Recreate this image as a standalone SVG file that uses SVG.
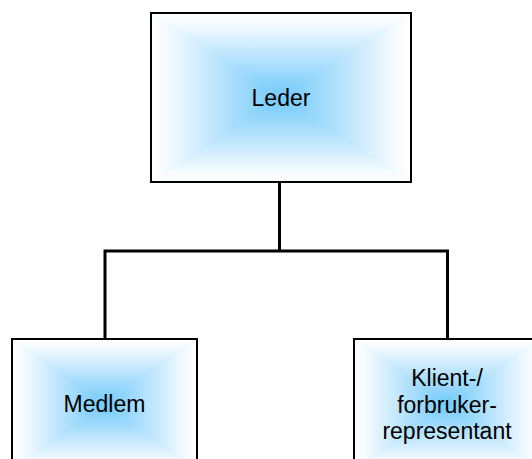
<svg xmlns="http://www.w3.org/2000/svg" width="532" height="459" viewBox="0 0 532 459">
  <defs>
    <!-- rectangular "from centre" fill built from four edge-to-centre wedges -->
    <linearGradient id="gT" x1="0" y1="0" x2="0" y2="1">
      <stop offset="0" stop-color="#ffffff"/>
      <stop offset="0.12" stop-color="#f6fbff"/>
      <stop offset="1" stop-color="#70c9fa"/>
    </linearGradient>
    <linearGradient id="gB" x1="0" y1="1" x2="0" y2="0">
      <stop offset="0" stop-color="#ffffff"/>
      <stop offset="0.12" stop-color="#f6fbff"/>
      <stop offset="1" stop-color="#70c9fa"/>
    </linearGradient>
    <linearGradient id="gL" x1="0" y1="0" x2="1" y2="0">
      <stop offset="0" stop-color="#ffffff"/>
      <stop offset="0.12" stop-color="#f6fbff"/>
      <stop offset="1" stop-color="#70c9fa"/>
    </linearGradient>
    <linearGradient id="gR" x1="1" y1="0" x2="0" y2="0">
      <stop offset="0" stop-color="#ffffff"/>
      <stop offset="0.12" stop-color="#f6fbff"/>
      <stop offset="1" stop-color="#70c9fa"/>
    </linearGradient>
  </defs>
  <style>
    .frame { fill: none; stroke: #000000; stroke-width: 2; }
    .base { fill: #c6e9fc; }
    .t { fill: url(#gT); }
    .b { fill: url(#gB); }
    .l { fill: url(#gL); }
    .r { fill: url(#gR); }
    .label { font-family: "Liberation Sans", Arial, sans-serif; font-size: 23px; fill: #000000; text-anchor: middle; }
    .wire { fill: none; stroke: #000000; stroke-width: 3; stroke-linecap: square; }
  </style>

  <rect width="532" height="459" fill="#ffffff"/>

  <!-- connectors -->
  <g id="connectors">
    <path class="wire" d="M279.5,182 V251 M105,339 V251 H447.5 V339"/>
  </g>

  <!-- Leder: x 151..411, y 13..182, centre (281,97.5) -->
  <g id="node-leder">
    <rect class="base" x="151" y="13" width="260" height="169"/>
    <polygon class="t" points="151,13 411,13 281,97.5"/>
    <polygon class="b" points="151,182 411,182 281,97.5"/>
    <polygon class="l" points="151,13 151,182 281,97.5"/>
    <polygon class="r" points="411,13 411,182 281,97.5"/>
    <rect class="frame" x="151" y="13" width="260" height="169"/>
    <text class="label" x="281" y="106">Leder</text>
  </g>

  <!-- Medlem: x 12..197, y 339..469, centre (104.5,404) -->
  <g id="node-medlem">
    <rect class="base" x="12" y="339" width="185" height="130"/>
    <polygon class="t" points="12,339 197,339 104.5,404"/>
    <polygon class="b" points="12,469 197,469 104.5,404"/>
    <polygon class="l" points="12,339 12,469 104.5,404"/>
    <polygon class="r" points="197,339 197,469 104.5,404"/>
    <rect class="frame" x="12" y="339" width="185" height="130"/>
    <text class="label" x="104.5" y="412">Medlem</text>
  </g>

  <!-- Klient-/forbrukerrepresentant: x 354..540, y 339..469, centre (447,404) -->
  <g id="node-klient">
    <rect class="base" x="354" y="339" width="186" height="130"/>
    <polygon class="t" points="354,339 540,339 447,404"/>
    <polygon class="b" points="354,469 540,469 447,404"/>
    <polygon class="l" points="354,339 354,469 447,404"/>
    <polygon class="r" points="540,339 540,469 447,404"/>
    <rect class="frame" x="354" y="339" width="186" height="130"/>
    <text class="label" x="447" y="386">Klient-/</text>
    <text class="label" x="447" y="412.5">forbruker-</text>
    <text class="label" x="447" y="439">representant</text>
  </g>
</svg>
